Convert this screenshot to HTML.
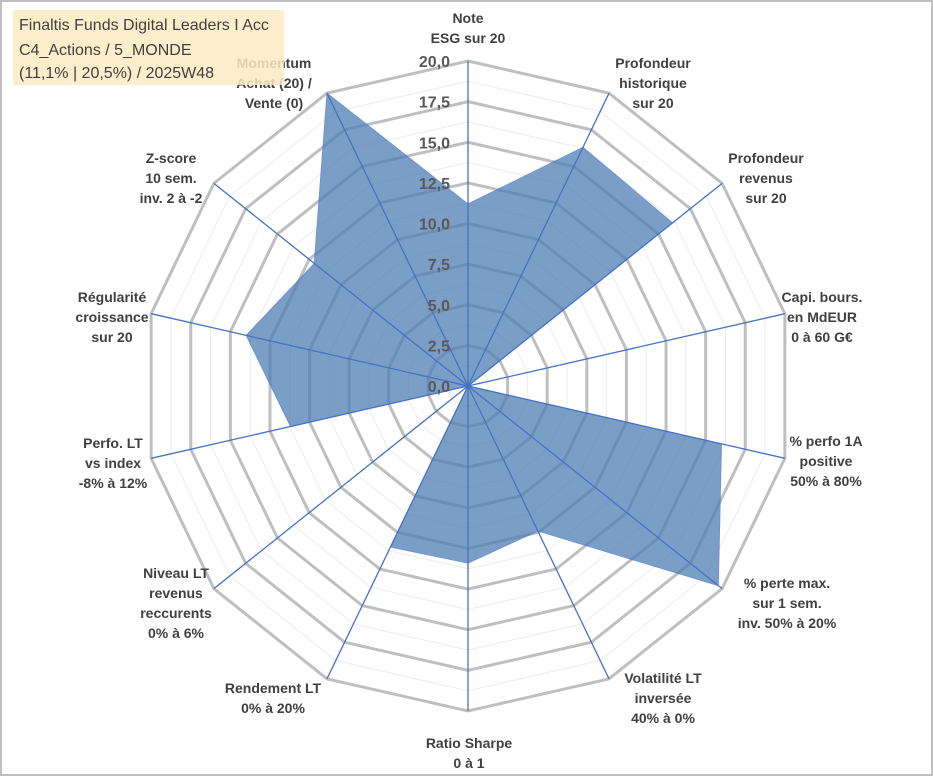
<!DOCTYPE html>
<html><head><meta charset="utf-8"><style>
body{margin:0;background:#fff;}
svg{display:block;font-family:"Liberation Sans",Arial,sans-serif;}
</style></head><body>
<svg id="chart" width="933" height="776">
<rect x="1" y="1" width="931" height="774" fill="#fff" stroke="#bfbfbf" stroke-width="2"/>
<g id="grid"></g><g id="series"></g><g id="ticks"></g><g id="labels"></g>
<g>
<rect x="13" y="10" width="271" height="75" fill="#fdebc2" opacity="0.85"/>
<text x="19" y="30" font-size="16" fill="#404040">Finaltis Funds Digital Leaders I Acc</text>
<text x="19" y="55" font-size="16" fill="#404040">C4_Actions / 5_MONDE</text>
<text x="19" y="78" font-size="16" fill="#404040">(11,1% | 20,5%) / 2025W48</text>
</g>
</svg>
<script>
const categories=[["Note","ESG sur 20"],["Profondeur","historique","sur 20"],["Profondeur","revenus","sur 20"],["Capi. bours.","en MdEUR","0 à 60 G€"],["% perfo 1A","positive","50% à 80%"],["% perte max.","sur 1 sem.","inv. 50% à 20%"],["Volatilité LT","inversée","40% à 0%"],["Ratio Sharpe","0 à 1"],["Rendement LT","0% à 20%"],["Niveau LT","revenus","reccurents","0% à 6%"],["Perfo. LT","vs index","-8% à 12%"],["Régularité","croissance","sur 20"],["Z-score","10 sem.","inv. 2 à -2"],["Momentum","Achat (20) /","Vente (0)"]];
const values=[11.2,16.3,16.1,0,16,19.7,9.9,10.9,11,0,11.2,14,12.1,20];
const tickLabels=["0,0","2,5","5,0","7,5","10,0","12,5","15,0","17,5","20,0"];
const labelPos=[[468,18],[653,63],[766,158],[822,297],[826,441],[787,583],[663,678],[469,743],[273,688],[176,573],[113,443],[112,297],[171,158],[274,63]];
const cx=468,cy=386,R=325,maxV=20,N=categories.length;
const ns="http://www.w3.org/2000/svg";
function pt(i,v){const a=2*Math.PI*i/N;const r=v/maxV*R;return [cx+r*Math.sin(a),cy-r*Math.cos(a)];}
function mk(tag,attrs,parent){const e=document.createElementNS(ns,tag);for(const k in attrs)e.setAttribute(k,attrs[k]);parent.appendChild(e);return e;}
const grid=document.getElementById('grid');
for(let k=1;k<=16;k++){const v=k*1.25;const pts=[];for(let i=0;i<N;i++)pts.push(pt(i,v).join(','));
 const ring=mk('polygon',{points:pts.join(' '),fill:'none',stroke:k%2==0?'#bfbfbf':'#ececec','stroke-width':k%2==0?3:1},grid);
 
 }
const series=document.getElementById('series');
const sp=values.map((v,i)=>pt(i,v).join(',')).join(' ');
const poly=mk('polygon',{points:sp,fill:'#4f7eb3',opacity:'0.75',stroke:'#4472c4','stroke-width':1},series);


for(let i=0;i<N;i++){const p=pt(i,maxV);
 const l=mk('line',{x1:cx,y1:cy,x2:p[0],y2:p[1],stroke:'#4472c4','stroke-width':1.3},series);
 
 }
const ticks=document.getElementById('ticks');
tickLabels.forEach((t,k)=>{const y=cy-k*2.5/maxV*R;
 const e=mk('text',{x:450,y:y+6,'text-anchor':'end','font-size':16,'font-weight':'bold',fill:'#595959'},ticks);
 e.textContent=t;
 
 });
const labels=document.getElementById('labels');
categories.forEach((lines,i)=>{const [x,y]=labelPos[i];
 const g=mk('text',{x:x,'text-anchor':'middle','font-size':14,'font-weight':'bold',fill:'#404040'},labels);
 
 
 lines.forEach((ln,j)=>{const s=mk('tspan',{x:x,y:y+5+j*20},g);s.textContent=ln;});});
</script>
</body></html>
